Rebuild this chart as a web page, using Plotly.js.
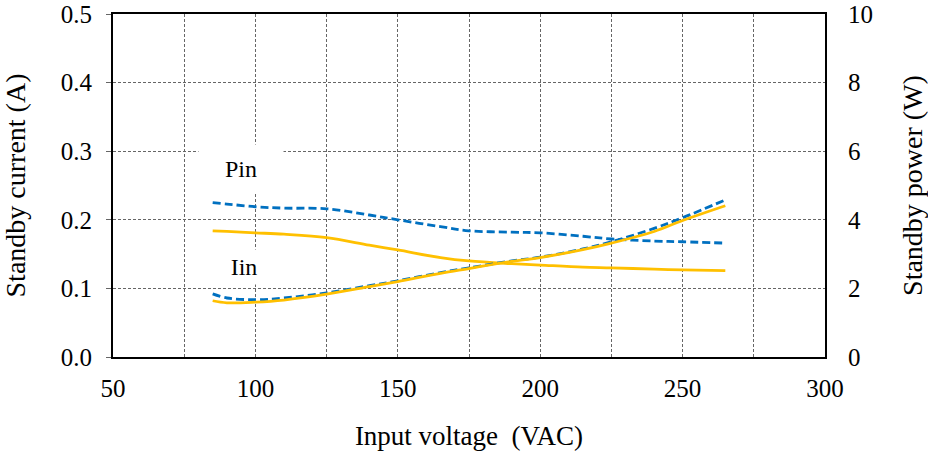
<!DOCTYPE html>
<html>
<head>
<meta charset="utf-8">
<script src="https://cdn.plot.ly/plotly-3.0.1.min.js"></script>
<style>html,body{margin:0;padding:0;background:#fff}#chart{width:928px;height:454px}</style>
</head>
<body>
<div id="chart"></div>
<script>
const voltage = [85, 90, 100, 110, 125, 140, 150, 165, 175, 190, 200, 215, 225, 240, 250, 265];
// Standby current (A), left axis
const currentBlue   = [0.225, 0.223, 0.219, 0.217, 0.216, 0.207, 0.200, 0.190, 0.184, 0.182, 0.181, 0.176, 0.172, 0.169, 0.168, 0.166];
const currentYellow = [0.184, 0.183, 0.181, 0.179, 0.174, 0.163, 0.156, 0.145, 0.140, 0.136, 0.134, 0.131, 0.130, 0.128, 0.127, 0.126];
// Standby power (W), right axis
const powerBlue   = [1.84, 1.72, 1.67, 1.72, 1.87, 2.08, 2.22, 2.46, 2.60, 2.80, 2.91, 3.15, 3.36, 3.75, 4.06, 4.58];
const powerYellow = [1.64, 1.58, 1.60, 1.66, 1.83, 2.05, 2.20, 2.44, 2.58, 2.79, 2.90, 3.13, 3.32, 3.66, 3.98, 4.41];
const xTicks = [50, 100, 150, 200, 250, 300];
const yTicks = [0, 0.1, 0.2, 0.3, 0.4, 0.5];
const yTickText = ['0.0', '0.1', '0.2', '0.3', '0.4', '0.5'];
const y2Ticks = [0, 2, 4, 6, 8, 10];
const labelTexts = ['Pin', 'Iin'];

const BLUE = '#0070C0', YELLOW = '#FFC000';
const FONT = '"Liberation Serif", "Times New Roman", serif';

const traces = [
  {x: voltage, y: currentBlue, yaxis: 'y', mode: 'lines', line: {color: BLUE, width: 2.8, dash: '8px,4px', shape: 'spline'}},
  {x: voltage, y: currentYellow, yaxis: 'y', mode: 'lines', line: {color: YELLOW, width: 2.8, shape: 'spline'}},
  {x: voltage, y: powerBlue, yaxis: 'y2', mode: 'lines', line: {color: BLUE, width: 2.8, dash: '8px,4px', shape: 'spline'}},
  {x: voltage, y: powerYellow, yaxis: 'y2', mode: 'lines', line: {color: YELLOW, width: 2.8, shape: 'spline'}}
];

const gridStyle = {showgrid: true, gridcolor: '#666', gridwidth: 1, griddash: '3px,2px'};

const layout = {
  width: 928, height: 454,
  margin: {l: 113, r: 103, t: 14, b: 97},
  paper_bgcolor: '#fff', plot_bgcolor: '#fff',
  showlegend: false,
  font: {family: FONT, size: 25, color: '#000'},
  xaxis: Object.assign({
    range: [50, 300], tickvals: xTicks, ticks: 'outside', ticklen: 8, tickcolor: 'rgba(0,0,0,0)',
    ticklabeloverflow: 'allow',
    showline: true, linecolor: '#000', linewidth: 2, mirror: true, zeroline: false,
    title: {text: 'Input voltage\u00a0\u00a0(VAC)', font: {size: 27}, standoff: 25}
  }, gridStyle, {minor: {dtick: 25, showgrid: true, gridcolor: '#666', griddash: '3px,2px', gridwidth: 1}}),
  yaxis: Object.assign({
    range: [0, 0.5], tickvals: yTicks, ticktext: yTickText, ticks: 'outside', ticklen: 5, tickcolor: '#666',
    ticklabelstandoff: 9, ticklabeloverflow: 'allow',
    showline: true, linecolor: '#000', linewidth: 2, mirror: true, zeroline: false,
    title: {text: 'Standby current (A)', font: {size: 28}, standoff: 27}
  }, gridStyle),
  yaxis2: {
    range: [0, 10], tickvals: y2Ticks, overlaying: 'y', side: 'right', showgrid: false, zeroline: false,
    ticks: 'outside', ticklen: 17, tickcolor: 'rgba(0,0,0,0)', ticklabeloverflow: 'allow',
    title: {text: 'Standby power (W)', font: {size: 28}, standoff: 42}
  },
  annotations: [
    {x: 95, y: 0.275, xref: 'x', yref: 'y', text: labelTexts[0], showarrow: false, bgcolor: '#fff',
     width: 82, height: 45, font: {size: 24}},
    {x: 96, y: 0.131, xref: 'x', yref: 'y', text: labelTexts[1], showarrow: false, bgcolor: '#fff',
     width: 82, height: 32, font: {size: 24}}
  ]
};

Plotly.newPlot('chart', traces, layout, {staticPlot: true, displayModeBar: false});
</script>
</body>
</html>
